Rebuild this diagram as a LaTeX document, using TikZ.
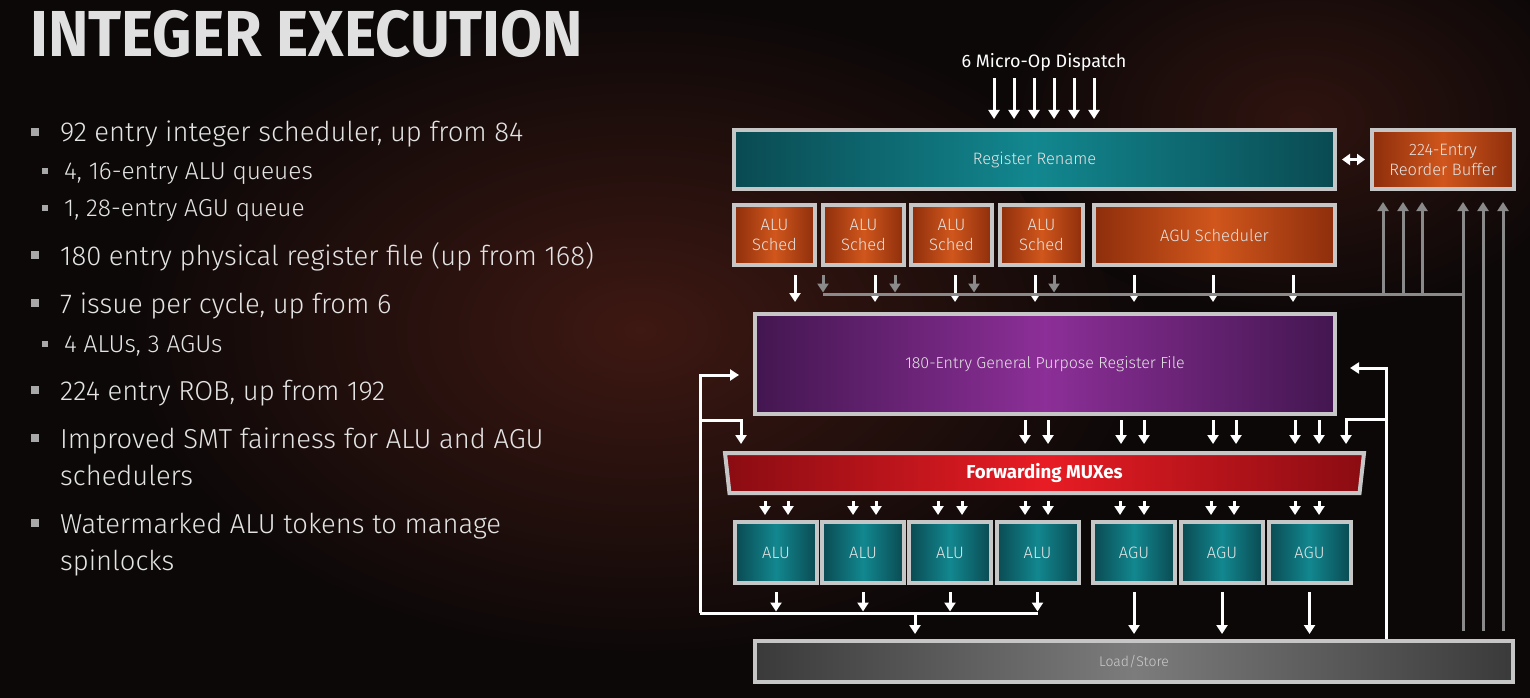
\documentclass[tikz,border=0pt]{standalone}
\usepackage{fontspec}
\setmainfont{Fira Sans}
\newfontfamily\headfont{Fira Sans}[FakeStretch=0.94]
\newfontfamily\bodyfont{Fira Sans Light}
\newfontfamily\boxfont{Fira Sans Light}
\usetikzlibrary{positioning, shapes.geometric, arrows.meta, calc}

\definecolor{bgdark}{HTML}{0C0808}
\definecolor{glowred}{HTML}{3E1812}
\definecolor{frame}{HTML}{C6C6C6}
\definecolor{tealmid}{HTML}{12878F}
\definecolor{tealedge}{HTML}{0A4A52}
\definecolor{orgmid}{HTML}{D0561C}
\definecolor{orgedge}{HTML}{8E2E0C}
\definecolor{purmid}{HTML}{8C2F98}
\definecolor{puredge}{HTML}{431650}
\definecolor{redmid}{HTML}{E81C24}
\definecolor{rededge}{HTML}{8A0C12}
\definecolor{greymid}{HTML}{7C7C7C}
\definecolor{greyedge}{HTML}{3A3A3A}
\definecolor{busgrey}{HTML}{8A8A8A}
\definecolor{bulgrey}{HTML}{A8A8A8}
\definecolor{txt}{HTML}{E4E4E4}

\begin{document}
\begin{tikzpicture}[
  x=1pt, y=-1pt,
  blk/.style={draw=frame, line width=4pt, left color=#1edge, right color=#1edge, middle color=#1mid,
    text=txt, font=\boxfont\fontsize{16.5}{20}\selectfont, align=center, inner sep=0pt},
  warr/.style={white, line width=3pt, -{Triangle[length=9pt, width=11pt]}},
  garr/.style={busgrey, line width=3pt, -{Triangle[length=9pt, width=11pt]}},
  wline/.style={white, line width=3pt},
  gline/.style={busgrey, line width=3pt},
  mainline/.style={anchor=base west, inner sep=0pt, text=txt, font=\bodyfont\fontsize{27.4}{30}\selectfont},
  subline/.style={anchor=base west, inner sep=0pt, text=txt, font=\bodyfont\fontsize{24.5}{26}\selectfont},
  bul/.style={fill=bulgrey, minimum size=8pt, inner sep=0pt},
  subbul/.style={fill=bulgrey, minimum size=6pt, inner sep=0pt}
]
\useasboundingbox (0,0) rectangle (1530,698);

% background
\begin{scope}
  \clip (0,0) rectangle (1530,698);
  \fill[bgdark] (0,0) rectangle (1530,698);
  \shade[inner color=glowred, outer color=bgdark] (640,330) ellipse [x radius=520, y radius=330];
  \shade[inner color=glowred!70!bgdark, outer color=bgdark] (1300,120) ellipse [x radius=300, y radius=200];
\end{scope}

% ── title and bullet list ──
\node[anchor=base west, inner sep=0pt, text=white!88!black, font=\headfont\bfseries\fontsize{65}{65}\selectfont] (title) at (30,57) {INTEGER EXECUTION};

\node[mainline] (p1) at (60,142) {92 entry integer scheduler, up from 84};
\node[subline] (q1) at (64,179) {4, 16-entry ALU queues};
\node[subline] (q2) at (64,216) {1, 28-entry AGU queue};
\node[mainline] (p2) at (60,265) {180 entry physical register file (up from 168)};
\node[mainline] (p3) at (60,313) {7 issue per cycle, up from 6};
\node[subline] (q3) at (64,352) {4 ALUs, 3 AGUs};
\node[mainline] (p4) at (60,400) {224 entry ROB, up from 192};
\node[mainline] (p5) at (60,448) {Improved SMT fairness for ALU and AGU};
\node[mainline] (p5b) at (60,485) {schedulers};
\node[mainline] (p6) at (60,533) {Watermarked ALU tokens to manage};
\node[mainline] (p6b) at (60,570) {spinlocks};

\foreach \n in {p1,p2,p3,p4,p5,p6}
  \node[bul] (\n-sq) at ($(\n.base west)+(-25,-10)$) {};
\foreach \n in {q1,q2,q3}
  \node[subbul] (\n-sq) at ($(\n.base west)+(-19,-8)$) {};

% ── front end ──
\node[text=white, inner sep=0pt, font=\fontsize{18}{20}\selectfont] (dispatch) at (1044,62) {6 Micro-Op Dispatch};
\node[blk=teal, minimum width=601pt, minimum height=59pt] (rename) at (1034.5,159.5) {Register Rename};
\node[blk=org, minimum width=142pt, minimum height=59pt] (rob) at (1443,159.5) {224-Entry\\Reorder Buffer};

% schedulers
\node[blk=org, minimum width=81pt, minimum height=60pt] (sa1) at (774.5,235) {ALU\\Sched};
\node[blk=org, minimum width=81pt, minimum height=60pt] (sa2) at (863.5,235) {ALU\\Sched};
\node[blk=org, minimum width=81pt, minimum height=60pt] (sa3) at (951.5,235) {ALU\\Sched};
\node[blk=org, minimum width=83pt, minimum height=60pt] (sa4) at (1041.5,235) {ALU\\Sched};
\node[blk=org, minimum width=241pt, minimum height=60pt] (agusched) at (1214.5,235) {AGU Scheduler};

% register file and bypass
\node[blk=pur, minimum width=580pt, minimum height=100pt, font=\boxfont\fontsize{16}{18}\selectfont] (gprf) at (1045,364) {180-Entry General Purpose Register File};
\node[blk=red, trapezium, shape border rotate=180, trapezium angle=77, trapezium stretches body,
  minimum width=639pt, minimum height=40pt, text=white,
  font=\bfseries\fontsize{18.7}{20}\selectfont] (mux) at (1044.5,473) {Forwarding MUXes};

% execution units
\foreach \n/\x/\t in {alu1/776/ALU, alu2/863/ALU, alu3/950/ALU, alu4/1037.5/ALU,
                      agu1/1134/AGU, agu2/1222/AGU, agu3/1309.5/AGU}
  \node[blk=teal, minimum width=82pt, minimum height=61pt] (\n) at (\x,552.5) {\t};

\node[blk=grey, minimum width=758pt, minimum height=41pt, text=white!80!black,
  font=\boxfont\fontsize{14}{16}\selectfont] (ls) at (1134,661.5) {Load/Store};

% ═══ ARROWS ═══
% dispatch -> rename
\foreach \x in {994,1014,1034,1054,1074,1094}
  \draw[warr, shorten <=7pt, shorten >=9pt] (\x,0 |- dispatch.south) -- (\x,0 |- rename.north);

% rename <-> ROB
\draw[warr, {Triangle[length=8pt, width=11pt]}-{Triangle[length=8pt, width=11pt]}, shorten <=5pt, shorten >=5pt] (rename.east) -- (rob.west);

% schedulers -> register file
\foreach \s/\x in {sa1/795, sa2/875, sa3/955, sa4/1035, agusched/1134, agusched/1213, agusched/1293}
  \draw[warr, shorten <=8pt, shorten >=10pt] (\x,0 |- \s.south) -- (\x,0 |- gprf.north);

% retire bus to ROB
\coordinate (robbus) at (823,294);
\coordinate (robbusR) at (1463,294);
\foreach \s/\x in {sa2/823, sa2/895, sa3/974, sa4/1054}
  \draw[garr, shorten <=8pt, shorten >=1.5pt] (\x,0 |- \s.south) -- (\x,0 |- robbus);
\draw[gline] (robbus) -- (robbusR);
\foreach \x in {1383,1403,1422}
  \draw[garr, shorten >=11pt] (\x,0 |- robbus) -- (\x,0 |- rob.south);
\foreach \x in {1463,1483,1503}
  \draw[garr, shorten <=8pt, shorten >=11pt] (\x,0 |- ls.north) -- (\x,0 |- rob.south);

% register file -> MUXes
\foreach \x in {1025,1048,1121,1144,1213,1236,1295,1319}
  \draw[warr, shorten <=4pt, shorten >=7pt] (\x,0 |- gprf.south) -- (\x,0 |- mux.north);

% MUXes -> units
\foreach \u/\a/\b in {alu1/765/788, alu2/853/876, alu3/938/962, alu4/1025/1048,
                      agu1/1120/1144, agu2/1211/1234, agu3/1295/1319} {
  \draw[warr, shorten <=6pt, shorten >=5pt] (\a,0 |- mux.south) -- (\a,0 |- \u.north);
  \draw[warr, shorten <=6pt, shorten >=5pt] (\b,0 |- mux.south) -- (\b,0 |- \u.north);
}

% ALU results loop back
\coordinate (fwdbus) at (700,613);
\foreach \u in {alu1,alu2,alu3,alu4}
  \draw[warr, shorten <=7pt, shorten >=1.5pt] (\u.south) -- (\u.south |- fwdbus);
\draw[wline] (fwdbus) -- (alu4.south |- fwdbus);
\draw[warr, shorten >=14pt] (fwdbus) |- ($(gprf.west)+(0,11)$);
\draw[warr, shorten >=7pt] ($(fwdbus |- gprf.south)+(0,4)$) -| (741,0 |- mux.north);
\draw[warr, shorten >=5pt] (915,0 |- fwdbus) -- (915,0 |- ls.north);

% AGU -> load/store
\foreach \u in {agu1,agu2,agu3}
  \draw[warr, shorten <=7pt, shorten >=5pt] (\u.south) -- (\u.south |- ls.north);

% load/store results loop back
\draw[warr, shorten >=13pt] (1386,0 |- ls.north) |- ($(gprf.east)+(0,4)$);
\draw[warr, shorten >=7pt] ($(1386,0 |- gprf.south)+(0,3)$) -| (1346,0 |- mux.north);

\end{tikzpicture}
\end{document}
